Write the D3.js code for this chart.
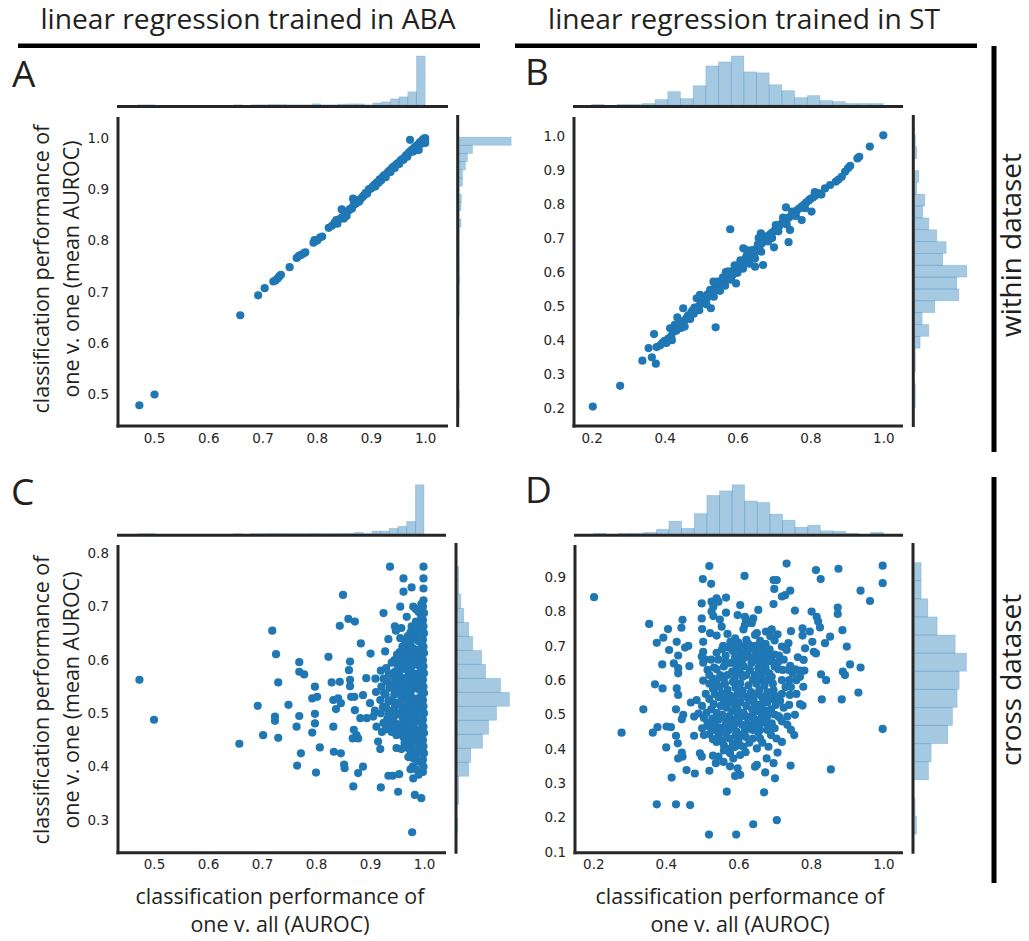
<!DOCTYPE html>
<html><head><meta charset="utf-8">
<script src="https://cdn.jsdelivr.net/npm/d3@7"></script>
<style>body{margin:0;background:#fff}svg{display:block}</style>
</head><body>
<svg id="c" width="1029" height="941"></svg>
<script>
// ---------- texts ----------
const titles = ["linear regression trained in ABA", "linear regression trained in ST"];
const rowLabels = ["within dataset", "cross dataset"];
const panelLetters = ["A", "B", "C", "D"];
const yLabelA = ["classification performance of", "one v. one  (mean AUROC)"];
const yLabelC = ["classification performance of", "one v. one (mean AUROC)"];
const xLabel = ["classification performance of", "one v. all (AUROC)"];

// ---------- tick values ----------
const ticksAbaX = [0.5, 0.6, 0.7, 0.8, 0.9, 1.0];
const ticksAY = [0.5, 0.6, 0.7, 0.8, 0.9, 1.0];
const ticksStX = [0.2, 0.4, 0.6, 0.8, 1.0];
const ticksBY = [0.2, 0.3, 0.4, 0.5, 0.6, 0.7, 0.8, 0.9, 1.0];
const ticksCY = [0.3, 0.4, 0.5, 0.6, 0.7, 0.8];
const ticksDY = [0.1, 0.2, 0.3, 0.4, 0.5, 0.6, 0.7, 0.8, 0.9];

// ---------- marginal histograms (bin start, bin width, counts) ----------
const abaXBinStart = 0.47, abaXBinWidth = 0.01606;
const histTopA = [1,1,0,0,0,0,0,0,0,0,0,1,0,1,1,2,2,1,1,1,5,1,1,4,5,5,1,9,14,27,36,58,216];
const histTopC = [1,1,0,0,0,0,0,0,0,0,0,1,0,1,1,2,2,1,1,1,2,1,1,2,2,6,1,12,12,24,33,55,217];
const aYBinStart = 0.475, aYBinWidth = 0.01598;
const histRightA = [1,1,0,0,0,0,0,0,0,0,0,1,1,1,1,3,2,2,1,2,1,2,8,1,8,10,1,15,15,28,37,60,234];
const cYBinStart = 0.277, cYBinWidth = 0.02624;
const histRightC = [1,0,4,4,34,40,76,94,118,157,130,85,73,46,34,19,10,4,4];
const stXBinStart = 0.2, stXBinWidth = 0.03478;
const histTopB = [1,0,1,1,3,11,27,13,39,79,87,99,67,65,41,29,15,19,9,7,3,3,3];
const histTopD = [1,0,1,1,3,9,25,11,40,76,85,97,65,62,39,27,13,17,6,5,1,0,3];
const bYBinStart = 0.2026, bYBinWidth = 0.0348;
const histRightB = [1,1,0,1,1,8,21,11,30,66,63,78,42,47,33,21,12,15,3,6,0,3,1];
const dYBinStart = 0.151, dYBinWidth = 0.0528;
const histRightD = [3,1,0,21,25,50,57,64,67,78,61,34,20,10,10];

// ---------- scatter points [one v. all, one v. one] ----------
const pointsA = [[0.473,0.478],[0.501,0.499],[0.659,0.654],[0.692,0.693],[0.704,0.707],[0.720,0.720],[0.724,0.722],[0.728,0.726],[0.731,0.730],[0.734,0.733],[0.750,0.748],[0.763,0.766],[0.767,0.770],[0.771,0.772],[0.776,0.775],[0.779,0.777],[0.794,0.796],[0.796,0.801],[0.801,0.800],[0.806,0.806],[0.810,0.808],[0.822,0.825],[0.828,0.829],[0.833,0.835],[0.836,0.840],[0.838,0.833],[0.842,0.842],[0.846,0.861],[0.847,0.846],[0.850,0.843],[0.852,0.850],[0.855,0.848],[0.857,0.857],[0.860,0.860],[0.862,0.862],[0.865,0.863],[0.867,0.882],[0.868,0.870],[0.872,0.872],[0.875,0.878],[0.878,0.876],[0.880,0.880],[0.884,0.885],[0.887,0.888],[0.890,0.893],[0.893,0.892],[0.896,0.900],[0.900,0.902],[0.903,0.905],[0.906,0.909],[0.908,0.906],[0.911,0.914],[0.914,0.913],[0.916,0.920],[0.919,0.918],[0.922,0.925],[0.925,0.928],[0.927,0.924],[0.930,0.932],[0.933,0.936],[0.936,0.934],[0.938,0.941],[0.941,0.944],[0.944,0.942],[0.946,0.948],[0.949,0.951],[0.952,0.950],[0.954,0.956],[0.957,0.959],[0.960,0.958],[0.962,0.963],[0.965,0.967],[0.967,0.964],[0.970,0.972],[0.972,0.997],[0.973,0.975],[0.976,0.978],[0.978,0.974],[0.980,0.982],[0.983,0.985],[0.985,0.981],[0.987,0.988],[0.988,0.977],[0.990,0.992],[0.992,0.989],[0.994,0.995],[0.996,0.998],[0.998,0.994],[0.999,1.000],[1.000,0.991],[1.000,1.000]];

const pointsB = [[0.203,0.205],[0.278,0.266],[0.339,0.340],[0.356,0.377],[0.365,0.350],[0.371,0.418],[0.376,0.331],[0.378,0.380],[0.388,0.385],[0.394,0.392],[0.400,0.398],[0.405,0.392],[0.410,0.405],[0.415,0.435],[0.418,0.412],[0.424,0.425],[0.428,0.445],[0.432,0.428],[0.435,0.467],[0.440,0.440],[0.445,0.436],[0.448,0.452],[0.451,0.494],[0.455,0.458],[0.460,0.465],[0.464,0.472],[0.468,0.470],[0.472,0.480],[0.476,0.486],[0.480,0.478],[0.484,0.490],[0.488,0.523],[0.490,0.494],[0.494,0.500],[0.497,0.533],[0.500,0.508],[0.503,0.512],[0.507,0.518],[0.510,0.510],[0.512,0.528],[0.515,0.522],[0.518,0.535],[0.521,0.530],[0.524,0.540],[0.527,0.494],[0.529,0.545],[0.532,0.538],[0.534,0.572],[0.536,0.552],[0.540,0.438],[0.541,0.548],[0.544,0.560],[0.547,0.555],[0.550,0.565],[0.553,0.558],[0.556,0.572],[0.559,0.566],[0.562,0.578],[0.565,0.572],[0.568,0.600],[0.570,0.584],[0.573,0.590],[0.576,0.580],[0.580,0.726],[0.580,0.595],[0.584,0.600],[0.587,0.592],[0.590,0.605],[0.593,0.612],[0.596,0.567],[0.598,0.608],[0.601,0.618],[0.604,0.612],[0.607,0.624],[0.610,0.618],[0.613,0.628],[0.616,0.670],[0.619,0.630],[0.622,0.640],[0.625,0.665],[0.626,0.634],[0.630,0.645],[0.634,0.640],[0.638,0.652],[0.642,0.660],[0.645,0.648],[0.648,0.616],[0.650,0.665],[0.654,0.672],[0.658,0.700],[0.660,0.676],[0.664,0.714],[0.666,0.684],[0.670,0.621],[0.672,0.690],[0.676,0.696],[0.680,0.700],[0.685,0.706],[0.690,0.712],[0.695,0.716],[0.700,0.673],[0.702,0.722],[0.708,0.728],[0.714,0.735],[0.720,0.742],[0.726,0.748],[0.733,0.790],[0.734,0.752],[0.740,0.760],[0.744,0.724],[0.740,0.688],[0.748,0.766],[0.755,0.772],[0.762,0.780],[0.768,0.786],[0.776,0.753],[0.775,0.792],[0.782,0.798],[0.788,0.804],[0.795,0.810],[0.803,0.778],[0.800,0.815],[0.808,0.820],[0.815,0.826],[0.822,0.832],[0.830,0.828],[0.840,0.846],[0.854,0.856],[0.870,0.866],[0.877,0.872],[0.886,0.880],[0.895,0.895],[0.903,0.905],[0.909,0.912],[0.929,0.934],[0.934,0.939],[0.963,0.969],[1.000,1.002],
[0.470,0.462],[0.482,0.496],[0.495,0.488],[0.505,0.525],[0.515,0.505],[0.525,0.548],[0.535,0.528],[0.545,0.572],[0.552,0.545],[0.560,0.585],[0.566,0.560],[0.575,0.602],[0.582,0.578],[0.592,0.620],[0.600,0.598],[0.608,0.635],[0.615,0.610],[0.625,0.648],[0.632,0.625],[0.640,0.665],[0.648,0.640],[0.656,0.682],[0.665,0.660],[0.675,0.705],[0.684,0.690],[0.695,0.700],[0.705,0.738],[0.712,0.720],[0.725,0.760],[0.735,0.740],[0.750,0.778],[0.760,0.765],[0.785,0.788],[0.812,0.835],[0.420,0.400],[0.445,0.455],[0.455,0.440]];

const pointsC = [[0.473,0.563],[0.500,0.488],[0.658,0.443],[0.692,0.514],[0.702,0.459],[0.719,0.655],[0.726,0.611],[0.730,0.558],[0.724,0.494],[0.724,0.486],[0.730,0.454],[0.749,0.516],[0.769,0.596],[0.769,0.578],[0.778,0.573],[0.769,0.495],[0.764,0.475],[0.772,0.425],[0.765,0.402],[0.798,0.550],[0.793,0.528],[0.802,0.531],[0.798,0.499],[0.798,0.481],[0.793,0.464],[0.807,0.436],[0.800,0.389],[0.823,0.606],[0.829,0.558],[0.844,0.559],[0.832,0.525],[0.841,0.528],[0.837,0.508],[0.846,0.519],[0.832,0.475],[0.833,0.428],[0.846,0.425],[0.852,0.404],[0.853,0.397],[0.844,0.664],[0.850,0.722],[0.860,0.677],[0.872,0.672],[0.863,0.597],[0.861,0.581],[0.863,0.563],[0.863,0.551],[0.865,0.531],[0.871,0.531],[0.872,0.506],[0.870,0.469],[0.875,0.459],[0.868,0.453],[0.878,0.453],[0.869,0.363],[0.878,0.388],[0.887,0.400],[0.883,0.631],[0.887,0.534],[0.882,0.491],[0.894,0.491],[0.893,0.566],[0.901,0.612],[0.900,0.519],[0.906,0.494],[0.912,0.475],[0.915,0.447],[0.919,0.433],[0.920,0.361],[0.925,0.688],[0.928,0.616],[0.934,0.639],[0.937,0.775],[0.934,0.383],[0.942,0.383],[0.952,0.353],[0.954,0.386],[0.949,0.435],[0.958,0.433],[0.949,0.459],[0.956,0.700],[0.962,0.753],[0.962,0.728],[0.946,0.663],[0.956,0.641],[0.968,0.681],[0.977,0.736],[0.980,0.700],[0.977,0.663],[0.980,0.378],[0.983,0.347],[0.995,0.341],[0.978,0.277],[0.999,0.775],[0.999,0.753],[0.999,0.734],[0.985,0.695],[0.975,0.395],[0.990,0.385],
[0.999,0.712],[0.998,0.700],[1.000,0.688],[0.998,0.675],[0.999,0.663],[1.000,0.650],[0.998,0.638],[0.999,0.625],[1.000,0.613],[0.998,0.600],[0.999,0.588],[1.000,0.575],[0.998,0.563],[0.999,0.550],[1.000,0.538],[0.998,0.525],[0.999,0.513],[1.000,0.500],[0.998,0.488],[0.999,0.475],[1.000,0.463],[0.998,0.450],[0.999,0.438],[1.000,0.425],[0.998,0.413],[0.999,0.400],[0.998,0.390],
[0.995,0.705],[0.995,0.682],[0.994,0.657],[0.996,0.632],[0.995,0.607],[0.994,0.582],[0.996,0.557],[0.995,0.532],[0.994,0.507],[0.996,0.482],[0.995,0.457],[0.994,0.432],[0.996,0.407],
[0.990,0.690],[0.991,0.665],[0.989,0.650],[0.990,0.635],[0.992,0.620],[0.989,0.605],[0.990,0.590],[0.991,0.575],[0.989,0.560],[0.990,0.545],[0.992,0.530],[0.989,0.515],[0.990,0.500],[0.991,0.485],[0.989,0.470],[0.990,0.455],[0.992,0.440],[0.989,0.425],[0.990,0.410],
[0.985,0.672],[0.986,0.643],[0.984,0.615],[0.985,0.598],[0.986,0.568],[0.984,0.552],[0.985,0.522],[0.986,0.506],[0.984,0.490],[0.985,0.462],[0.986,0.446],[0.984,0.418],[0.985,0.395],
[0.981,0.655],[0.979,0.640],[0.980,0.622],[0.982,0.608],[0.979,0.590],[0.980,0.575],[0.981,0.560],[0.978,0.545],[0.980,0.528],[0.982,0.512],[0.979,0.498],[0.980,0.480],[0.981,0.465],[0.978,0.450],[0.980,0.432],[0.981,0.415],[0.979,0.400],
[0.975,0.632],[0.976,0.615],[0.974,0.598],[0.975,0.582],[0.976,0.566],[0.974,0.550],[0.975,0.535],[0.976,0.518],[0.974,0.500],[0.975,0.476],[0.976,0.458],[0.974,0.440],[0.975,0.425],[0.975,0.652],
[0.970,0.645],[0.971,0.628],[0.969,0.610],[0.970,0.592],[0.972,0.575],[0.969,0.558],[0.970,0.540],[0.971,0.522],[0.969,0.505],[0.970,0.488],[0.972,0.470],[0.969,0.452],[0.970,0.435],[0.971,0.418],
[0.965,0.636],[0.966,0.618],[0.964,0.600],[0.965,0.583],[0.966,0.566],[0.964,0.549],[0.965,0.531],[0.966,0.514],[0.964,0.496],[0.965,0.478],[0.966,0.461],[0.964,0.444],
[0.960,0.625],[0.961,0.605],[0.959,0.585],[0.960,0.565],[0.962,0.545],[0.959,0.528],[0.960,0.508],[0.961,0.490],[0.959,0.470],[0.962,0.455],[0.958,0.660],
[0.955,0.615],[0.956,0.596],[0.954,0.575],[0.955,0.555],[0.956,0.536],[0.954,0.518],[0.955,0.498],[0.956,0.478],[0.954,0.462],
[0.950,0.610],[0.951,0.590],[0.949,0.565],[0.950,0.545],[0.952,0.520],[0.949,0.500],[0.950,0.480],[0.948,0.655],
[0.945,0.600],[0.946,0.578],[0.944,0.556],[0.945,0.535],[0.946,0.513],[0.944,0.492],[0.945,0.472],
[0.940,0.595],[0.941,0.570],[0.939,0.548],[0.940,0.525],[0.942,0.505],[0.939,0.485],[0.940,0.465],
[0.935,0.575],[0.936,0.548],[0.934,0.522],[0.935,0.498],[0.936,0.478],
[0.930,0.585],[0.931,0.560],[0.929,0.535],[0.930,0.510],[0.932,0.490],[0.929,0.470],
[0.925,0.565],[0.926,0.538],[0.924,0.512],[0.925,0.482],
[0.920,0.580],[0.921,0.550],[0.919,0.525],[0.920,0.500],[0.922,0.465],
[0.910,0.565],[0.911,0.540],[0.909,0.505]];

const pointsD = [[0.202,0.842],[0.520,0.933],[0.617,0.904],[0.502,0.895],[0.525,0.881],[0.733,0.940],[0.814,0.921],[0.876,0.925],[0.998,0.934],[0.827,0.895],[0.998,0.883],[0.697,0.892],[0.706,0.892],[0.699,0.866],[0.743,0.861],[0.729,0.848],[0.720,0.844],[0.937,0.861],[0.963,0.831],[0.697,0.822],[0.756,0.803],[0.874,0.812],[0.874,0.793],[0.499,0.824],[0.526,0.829],[0.531,0.814],[0.545,0.829],[0.566,0.841],[0.540,0.839],[0.605,0.819],[0.526,0.800],[0.531,0.787],[0.566,0.797],[0.655,0.805],[0.802,0.800],
[0.354,0.764],[0.406,0.749],[0.393,0.724],[0.375,0.709],[0.430,0.712],[0.443,0.753],[0.446,0.776],[0.499,0.780],[0.500,0.749],[0.549,0.777],[0.554,0.756],[0.522,0.737],[0.540,0.730],[0.503,0.712],[0.598,0.790],[0.618,0.785],[0.621,0.775],[0.641,0.780],[0.637,0.766],[0.618,0.761],[0.614,0.748],[0.651,0.737],[0.646,0.732],[0.676,0.742],[0.692,0.748],[0.708,0.734],[0.745,0.743],[0.777,0.751],[0.777,0.730],[0.816,0.785],[0.820,0.771],[0.825,0.754],[0.797,0.742],[0.887,0.746],[0.853,0.727],[0.804,0.712],[0.839,0.708],[0.462,0.700],[0.453,0.695],[0.591,0.722],[0.580,0.705],[0.600,0.710],[0.622,0.718],[0.660,0.715],[0.675,0.706],[0.700,0.716],[0.720,0.698],[0.738,0.708],[0.570,0.735],[0.688,0.728],
[0.409,0.688],[0.390,0.646],[0.422,0.649],[0.434,0.635],[0.434,0.620],[0.465,0.641],[0.434,0.672],[0.370,0.588],[0.503,0.683],[0.499,0.669],[0.508,0.661],[0.503,0.651],[0.533,0.637],[0.540,0.632],[0.520,0.615],[0.530,0.605],[0.503,0.599],[0.808,0.683],[0.814,0.678],[0.784,0.693],[0.899,0.698],[0.733,0.688],[0.764,0.667],[0.780,0.659],[0.743,0.642],[0.757,0.632],[0.770,0.628],[0.782,0.628],[0.710,0.632],[0.722,0.630],[0.738,0.630],[0.710,0.653],[0.888,0.625],[0.894,0.615],[0.908,0.646],[0.937,0.637],[0.842,0.600],[0.828,0.617],[0.770,0.610],[0.692,0.610],
[0.555,0.690],[0.565,0.672],[0.572,0.695],[0.585,0.685],[0.590,0.665],[0.600,0.695],[0.605,0.678],[0.612,0.660],[0.618,0.700],[0.625,0.685],[0.630,0.668],[0.636,0.650],[0.642,0.690],[0.648,0.672],[0.655,0.655],[0.660,0.690],[0.668,0.675],[0.672,0.650],[0.680,0.668],[0.686,0.690],[0.692,0.655],[0.700,0.675],[0.560,0.640],[0.575,0.650],[0.583,0.625],[0.595,0.640],[0.605,0.620],[0.615,0.640],[0.622,0.615],[0.632,0.630],[0.645,0.615],[0.655,0.635],[0.665,0.618],[0.675,0.635],[0.685,0.620],[0.550,0.615],[0.560,0.605],[0.700,0.640],[0.712,0.672],[0.725,0.660],[0.740,0.600],[0.750,0.620],
[0.558,0.700],[0.578,0.712],[0.595,0.700],[0.610,0.690],[0.628,0.705],[0.645,0.700],[0.665,0.702],[0.680,0.690],[0.565,0.655],[0.588,0.650],[0.602,0.655],[0.620,0.672],[0.640,0.665],[0.660,0.662],[0.678,0.652],[0.690,0.668],[0.598,0.625],[0.612,0.610],[0.640,0.600],[0.660,0.600],[0.678,0.600],[0.570,0.615],[0.590,0.605],[0.515,0.630],[0.525,0.660],[0.545,0.660],[0.540,0.680],[0.720,0.600],[0.730,0.580],[0.745,0.580],[0.760,0.600],
[0.391,0.576],[0.430,0.576],[0.434,0.557],[0.428,0.515],[0.338,0.515],[0.469,0.535],[0.485,0.542],[0.478,0.494],[0.490,0.503],[0.448,0.499],[0.444,0.486],[0.830,0.544],[0.885,0.544],[0.931,0.564],[0.779,0.581],[0.742,0.557],[0.740,0.528],[0.770,0.530],[0.777,0.526],[0.706,0.542],[0.703,0.528],[0.697,0.571],[0.756,0.499],[0.735,0.494],[0.713,0.492],
[0.520,0.590],[0.530,0.575],[0.540,0.595],[0.548,0.580],[0.555,0.560],[0.563,0.590],[0.570,0.572],[0.578,0.555],[0.585,0.595],[0.592,0.578],[0.598,0.560],[0.605,0.590],[0.612,0.570],[0.620,0.552],[0.628,0.585],[0.635,0.565],[0.642,0.545],[0.650,0.590],[0.658,0.572],[0.665,0.552],[0.672,0.585],[0.680,0.565],[0.688,0.545],[0.695,0.590],[0.510,0.560],[0.520,0.545],[0.532,0.530],[0.545,0.550],[0.552,0.525],[0.560,0.540],[0.568,0.520],[0.575,0.535],[0.583,0.510],[0.590,0.530],[0.598,0.515],[0.606,0.535],[0.614,0.505],[0.622,0.525],[0.630,0.540],[0.638,0.515],[0.646,0.530],[0.655,0.510],[0.663,0.530],[0.672,0.512],[0.680,0.535],[0.690,0.515],[0.500,0.525],[0.512,0.505],[0.525,0.515],[0.540,0.505],[0.720,0.560],[0.725,0.520],[0.760,0.560],
[0.535,0.560],[0.565,0.555],[0.590,0.545],[0.610,0.555],[0.632,0.555],[0.652,0.560],[0.675,0.550],[0.700,0.555],[0.715,0.540],[0.555,0.500],[0.575,0.495],[0.598,0.495],[0.620,0.495],[0.640,0.500],[0.660,0.485],[0.680,0.495],[0.700,0.500],
[0.278,0.447],[0.364,0.447],[0.377,0.463],[0.402,0.465],[0.414,0.463],[0.428,0.438],[0.401,0.404],[0.433,0.416],[0.478,0.438],[0.505,0.440],[0.520,0.443],[0.530,0.428],[0.998,0.458],[0.754,0.440],[0.692,0.474],[0.683,0.474],[0.670,0.476],[0.655,0.448],[0.651,0.401],[0.666,0.418],[0.683,0.406],[0.630,0.418],[0.614,0.406],[0.637,0.469],[0.628,0.459],
[0.505,0.490],[0.515,0.475],[0.528,0.488],[0.535,0.470],[0.545,0.485],[0.552,0.462],[0.560,0.490],[0.566,0.472],[0.574,0.455],[0.580,0.485],[0.588,0.468],[0.595,0.450],[0.602,0.488],[0.610,0.470],[0.618,0.452],[0.625,0.490],[0.645,0.485],[0.655,0.470],[0.665,0.495],[0.545,0.440],[0.555,0.425],[0.565,0.445],[0.575,0.430],[0.585,0.415],[0.592,0.438],[0.600,0.425],[0.608,0.440],[0.560,0.410],[0.572,0.400],[0.590,0.405],[0.545,0.455],[0.700,0.460],[0.710,0.495],[0.720,0.480],[0.735,0.470],[0.745,0.455],[0.705,0.430],[0.720,0.420],[0.690,0.440],
[0.570,0.465],[0.592,0.480],[0.625,0.470],[0.640,0.455],[0.660,0.455],[0.680,0.455],[0.620,0.435],[0.640,0.430],[0.605,0.410],[0.660,0.430],[0.520,0.465],[0.530,0.455],[0.540,0.420],[0.500,0.460],
[0.446,0.377],[0.434,0.372],[0.444,0.389],[0.499,0.377],[0.494,0.387],[0.545,0.377],[0.538,0.358],[0.520,0.336],[0.559,0.362],[0.577,0.349],[0.598,0.343],[0.605,0.324],[0.591,0.321],[0.577,0.387],[0.586,0.372],[0.605,0.382],[0.651,0.353],[0.646,0.348],[0.678,0.372],[0.674,0.331],[0.697,0.358],[0.708,0.389],[0.701,0.314],[0.744,0.351],[0.855,0.340],[0.416,0.316],[0.457,0.338],[0.480,0.328],[0.568,0.275],[0.671,0.273],[0.375,0.238],[0.428,0.238],[0.467,0.236],[0.519,0.150],[0.594,0.150],[0.641,0.180],[0.706,0.192],[0.620,0.390],[0.560,0.395],[0.530,0.380]];

// ---------- layout ----------
const BLUE = "#1f77b4", INK = "#262626";
const svg = d3.select("#c");
const fmt = d3.format(".1f");

const panels = [
  {pts: pointsA, L:118, R:448, T:117, B:426, xDom:[0.4336,1.042], yDom:[0.4374,1.0417], xT:ticksAbaX, yT:ticksAY,
   top:{s:abaXBinStart,w:abaXBinWidth,c:histTopA}, right:{s:aYBinStart,w:aYBinWidth,c:histRightA}, topY:106.5, rightX:457.7},
  {pts: pointsB, L:574, R:903, T:117, B:426, xDom:[0.1514,1.054], yDom:[0.148,1.0558], xT:ticksStX, yT:ticksBY,
   top:{s:stXBinStart,w:stXBinWidth,c:histTopB}, right:{s:bYBinStart,w:bYBinWidth,c:histRightB}, topY:106.5, rightX:913.3},
  {pts: pointsC, L:118, R:446, T:545, B:852.7, xDom:[0.4333,1.0407], yDom:[0.2387,0.8156], xT:ticksAbaX, yT:ticksCY,
   top:{s:abaXBinStart,w:abaXBinWidth,c:histTopC}, right:{s:cYBinStart,w:cYBinWidth,c:histRightC}, topY:535.3, rightX:456},
  {pts: pointsD, L:575, R:903, T:545, B:852.7, xDom:[0.1495,1.054], yDom:[0.0971,0.9942], xT:ticksStX, yT:ticksDY,
   top:{s:stXBinStart,w:stXBinWidth,c:histTopD}, right:{s:dYBinStart,w:dYBinWidth,c:histRightD}, topY:535.3, rightX:913}
];

function spine(x1,y1,x2,y2,w){
  svg.append("line").attr("x1",x1).attr("y1",y1).attr("x2",x2).attr("y2",y2)
    .attr("stroke",INK).attr("stroke-width",w||3);
}

panels.forEach(p => {
  const x = d3.scaleLinear().domain(p.xDom).range([p.L, p.R]);
  const y = d3.scaleLinear().domain(p.yDom).range([p.B, p.T]);
  const g = svg.append("g");

  // top marginal histogram
  const hTop = d3.scaleLinear().domain([0, d3.max(p.top.c)]).range([0, 49]);
  g.append("g").selectAll("rect")
    .data(p.top.c.map((c,i)=>({c,i})).filter(d=>d.c>0))
    .join("rect")
    .attr("x", d => x(p.top.s + d.i*p.top.w))
    .attr("width", d => x(p.top.s + (d.i+1)*p.top.w) - x(p.top.s + d.i*p.top.w))
    .attr("y", d => p.topY - 1.5 - hTop(d.c))
    .attr("height", d => hTop(d.c))
    .attr("fill", BLUE).attr("fill-opacity", 0.4)
    .attr("stroke", BLUE).attr("stroke-opacity", 0.22).attr("stroke-width", 0.8);

  // right marginal histogram
  const wR = d3.scaleLinear().domain([0, d3.max(p.right.c)]).range([0, 52]);
  g.append("g").selectAll("rect")
    .data(p.right.c.map((c,i)=>({c,i})).filter(d=>d.c>0))
    .join("rect")
    .attr("y", d => y(p.right.s + (d.i+1)*p.right.w))
    .attr("height", d => y(p.right.s + d.i*p.right.w) - y(p.right.s + (d.i+1)*p.right.w))
    .attr("x", p.rightX + 1.5)
    .attr("width", d => wR(d.c))
    .attr("fill", BLUE).attr("fill-opacity", 0.4)
    .attr("stroke", BLUE).attr("stroke-opacity", 0.22).attr("stroke-width", 0.8);

  // scatter
  g.append("g").selectAll("circle").data(p.pts).join("circle")
    .attr("cx", d => x(d[0])).attr("cy", d => y(d[1])).attr("r", 4.1)
    .attr("fill", BLUE);

  // axes (labels only)
  const ax = g.append("g").attr("transform", `translate(0,${p.B})`)
    .call(d3.axisBottom(x).tickValues(p.xT).tickFormat(fmt).tickSize(0).tickPadding(7));
  const ay = g.append("g").attr("transform", `translate(${p.L},0)`)
    .call(d3.axisLeft(y).tickValues(p.yT).tickFormat(fmt).tickSize(0).tickPadding(9));
  [ax, ay].forEach(a => {
    a.select(".domain").remove();
    a.selectAll("text").attr("font-family","DejaVu Sans, sans-serif").attr("font-size","13.5px").attr("fill",INK);
  });

  // spines
  spine(p.L, p.T, p.L, p.B + 1.5);
  spine(p.L - 1.5, p.B, p.R, p.B);
  spine(p.L - 1, p.topY, p.R, p.topY);
  spine(p.rightX, p.T - 2, p.rightX, p.B + 1);
});

// ---------- headings / labels ----------
const LF = "'Open Sans', 'Noto Sans', sans-serif";
function fit(t, target){
  const w = t.node().getComputedTextLength();
  const fs = parseFloat(t.attr("font-size"));
  t.attr("font-size", (fs*target/w).toFixed(2));
  return fs*target/w;
}
function txt(str, x, y, size, opts){
  const t = svg.append("text").text(str).attr("x",x).attr("y",y)
    .attr("font-family",LF).attr("font-size",size).attr("fill","#231f20")
    .attr("text-anchor",(opts&&opts.anchor)||"middle");
  if (opts && opts.rot) t.attr("transform",`rotate(-90,${x},${y})`);
  return t;
}

// titles
const t1 = txt(titles[0], 248, 29, 25); const ts = fit(t1, 415);
const t2 = txt(titles[1], 744, 29, ts);
svg.append("rect").attr("x",18).attr("y",43.5).attr("width",462).attr("height",4.5).attr("fill","#000");
svg.append("rect").attr("x",515).attr("y",43.5).attr("width",462).attr("height",4.5).attr("fill","#000");

// row lines & labels
svg.append("rect").attr("x",991.5).attr("y",46).attr("width",5).attr("height",406).attr("fill","#000");
svg.append("rect").attr("x",991.5).attr("y",477).attr("width",5).attr("height",406).attr("fill","#000");
const r1 = txt(rowLabels[0], 1021, 245, 28, {rot:true}); const rs = fit(r1, 184);
txt(rowLabels[1], 1021, 680, rs, {rot:true});

// panel letters
txt(panelLetters[0], 12, 87, 37, {anchor:"start"});
txt(panelLetters[1], 525, 85, 37, {anchor:"start"});
txt(panelLetters[2], 11, 505, 37, {anchor:"start"});
txt(panelLetters[3], 525, 503, 37, {anchor:"start"});

// y labels
const yl = txt(yLabelA[0], 49, 269, 22, {rot:true}); const ls = fit(yl, 289);
txt(yLabelA[1], 79, 269, ls, {rot:true});
txt(yLabelC[0], 49, 700, ls, {rot:true});
txt(yLabelC[1], 79, 700, ls, {rot:true});

// x labels
txt(xLabel[0], 280, 904, ls);
txt(xLabel[1], 280, 932, ls);
txt(xLabel[0], 740, 904, ls);
txt(xLabel[1], 740, 932, ls);
</script>
</body></html>
